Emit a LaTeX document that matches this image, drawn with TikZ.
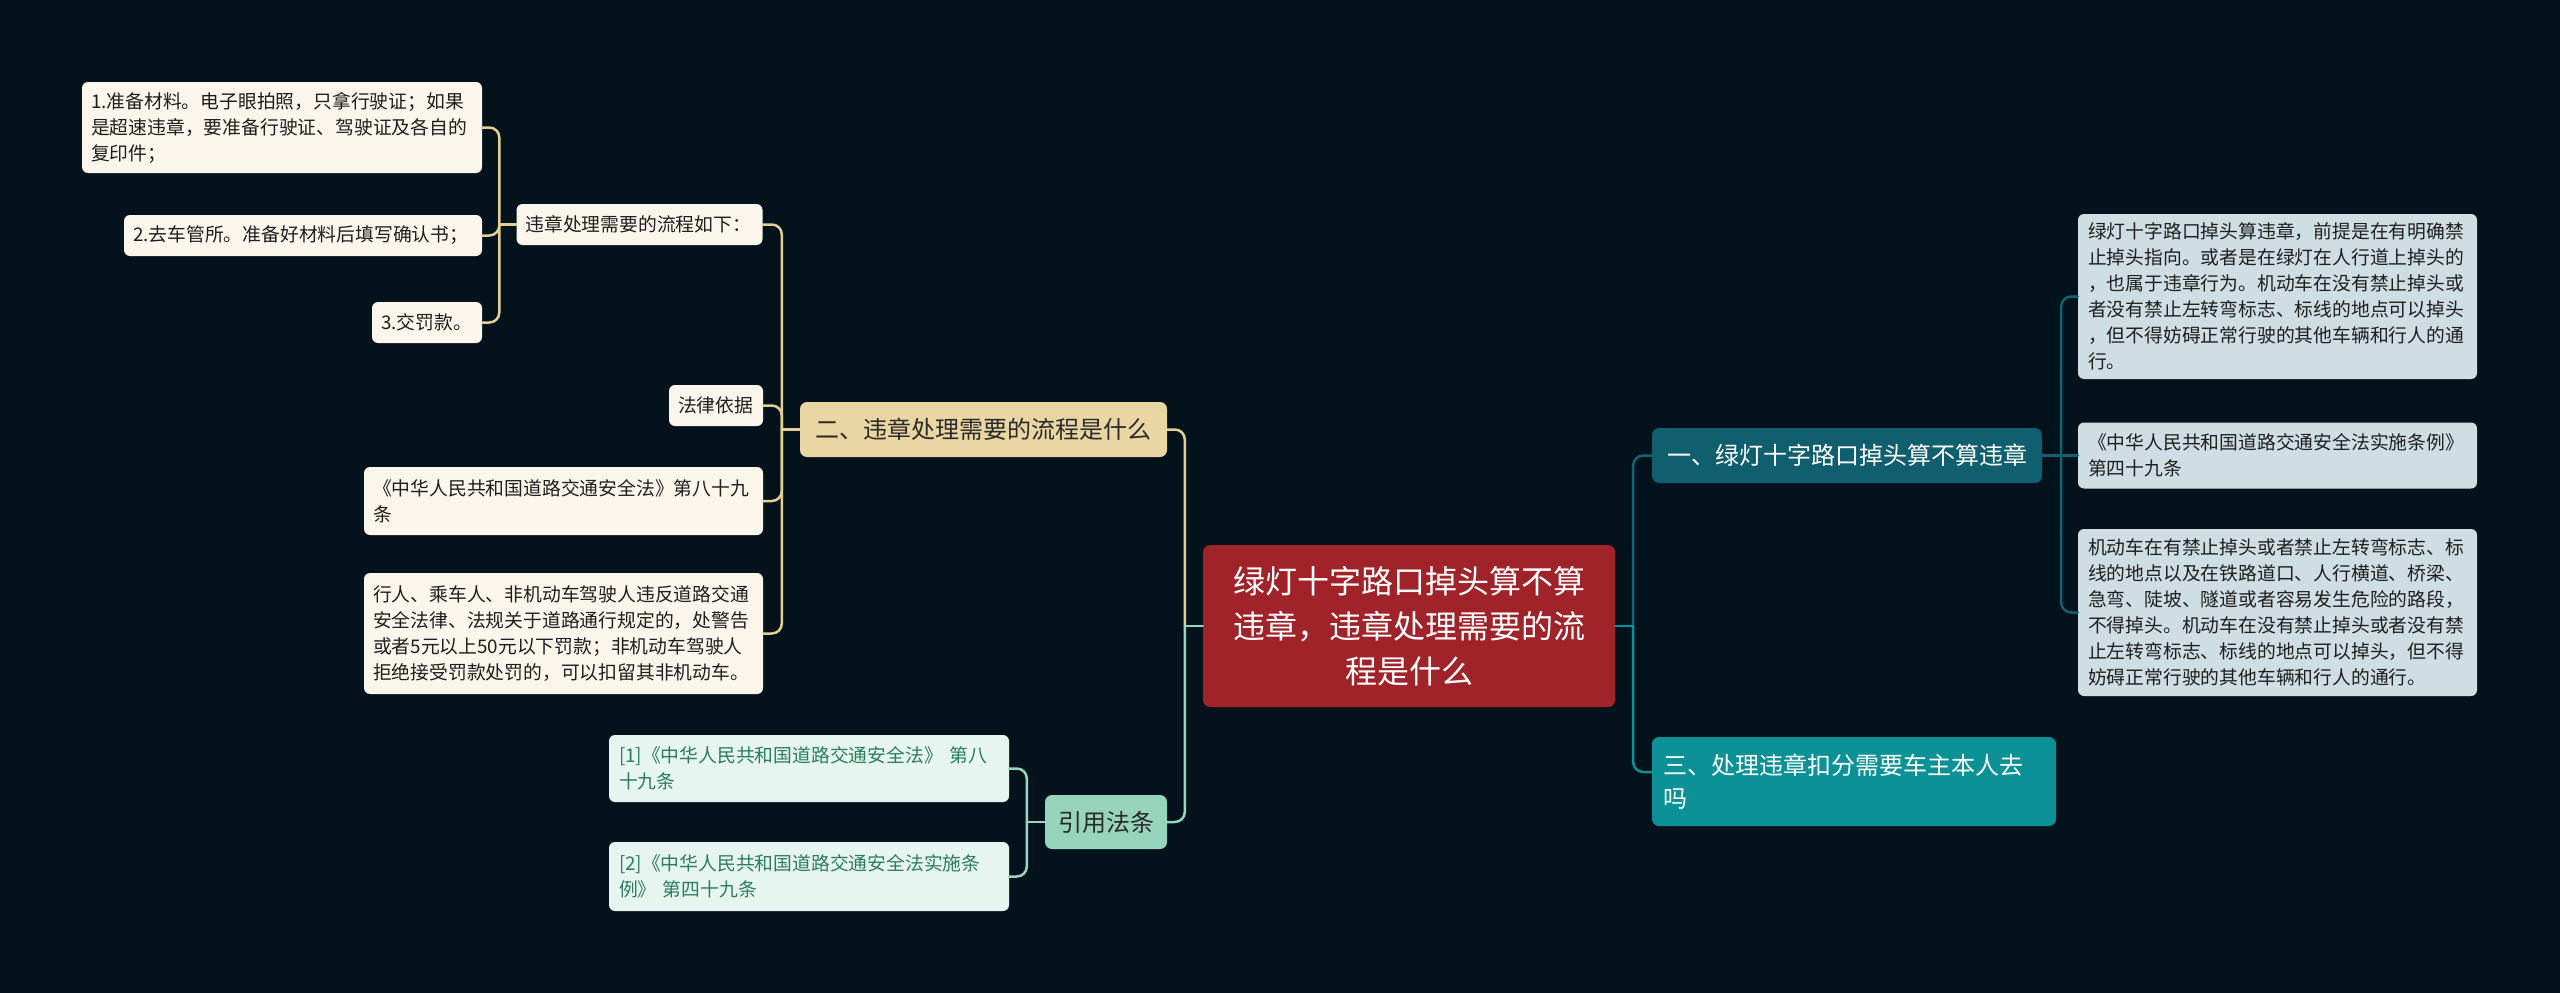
\documentclass[tikz,border=0pt]{standalone}
\usepackage{fontspec}
\setmainfont{Noto Sans CJK SC}
\usetikzlibrary{calc}
\definecolor{bg}{HTML}{04121B}
\definecolor{rootred}{HTML}{A0232A}
\definecolor{tealdark}{HTML}{0F5F6F}
\definecolor{tealmid}{HTML}{0B9196}
\definecolor{rleaf}{HTML}{CFDEE3}
\definecolor{tanfill}{HTML}{E9D6A2}
\definecolor{cream}{HTML}{FBF6EC}
\definecolor{mintfill}{HTML}{96D4BE}
\definecolor{mintleaf}{HTML}{E7F5F0}
\definecolor{greentext}{HTML}{2B7D5C}
\definecolor{tanline}{HTML}{E4D093}
\definecolor{mintline}{HTML}{97D5BF}
\definecolor{tealline}{HTML}{106273}
\definecolor{leaftext}{HTML}{1E1E1E}
\definecolor{darktext}{HTML}{2A2A2A}
\tikzset{
  mm/.style={rounded corners=7pt, inner ysep=0pt, draw=none},
  rootst/.style={mm, fill=rootred, text=white, font=\fontsize{32}{45}\selectfont, align=center, inner xsep=10pt},
  yist/.style={mm, fill=tealdark, text=white, font=\fontsize{24}{30}\selectfont, align=center, inner xsep=10pt},
  sanst/.style={mm, fill=tealmid, text=white, font=\fontsize{24}{33}\selectfont, align=left, inner xsep=11pt},
  erst/.style={mm, fill=tanfill, text=darktext, font=\fontsize{24}{30}\selectfont, align=center, inner xsep=10pt},
  yinst/.style={mm, fill=mintfill, text=darktext, font=\fontsize{24}{30}\selectfont, align=center, inner xsep=10pt},
  rleafst/.style={mm, rounded corners=6pt, fill=rleaf, text=leaftext, font=\fontsize{18.8}{26}\selectfont, align=left, inner xsep=10pt},
  lleafst/.style={mm, rounded corners=6pt, fill=cream, text=leaftext, font=\fontsize{18.8}{26}\selectfont, align=left, inner xsep=9pt},
  cleafst/.style={mm, rounded corners=6pt, fill=mintleaf, text=greentext, font=\fontsize{18.8}{26}\selectfont, align=left, inner xsep=10pt},
  conn/.style={line width=2.5pt, line cap=round, rounded corners=10pt},
  stub/.style={line width=2.5pt, line cap=round},
}
\newcommand\mmbox[8]{\node[#6, minimum width=#4, minimum height=#5, text width=#7] (#1) at (#2,#3) {#8};}
\begin{document}
\begin{tikzpicture}[x=1pt,y=-1pt]
\fill[bg] (0,0) rectangle (2560,993);
\useasboundingbox (0,0) rectangle (2560,993);

% root
\mmbox{root}{1409}{626}{412}{162}{rootst}{392pt}{绿灯十字路口掉头算不算\\违章，违章处理需要的流\\程是什么}

% right side
\mmbox{yi}{1847}{455.5}{390}{55}{yist}{370pt}{一、绿灯十字路口掉头算不算违章}
\mmbox{san}{1854}{781.5}{404}{89}{sanst}{382pt}{三、处理违章扣分需要车主本人去\\吗}
\mmbox{r1}{2277.5}{296.5}{399}{165}{rleafst}{379pt}{绿灯十字路口掉头算违章，前提是在有明确禁\\止掉头指向。或者是在绿灯在人行道上掉头的\\，也属于违章行为。机动车在没有禁止掉头或\\者没有禁止左转弯标志、标线的地点可以掉头\\，但不得妨碍正常行驶的其他车辆和行人的通\\行。}
\mmbox{r2}{2277.5}{455.5}{399}{66}{rleafst}{379pt}{《中华人民共和国道路交通安全法实施条例》\\第四十九条}
\mmbox{r3}{2277.5}{612.5}{399}{167}{rleafst}{379pt}{机动车在有禁止掉头或者禁止左转弯标志、标\\线的地点以及在铁路道口、人行横道、桥梁、\\急弯、陡坡、隧道或者容易发生危险的路段，\\不得掉头。机动车在没有禁止掉头或者没有禁\\止左转弯标志、标线的地点可以掉头，但不得\\妨碍正常行驶的其他车辆和行人的通行。}

% left side
\mmbox{er}{983.5}{429.5}{367}{55}{erst}{347pt}{二、违章处理需要的流程是什么}
\mmbox{yin}{1106}{822}{122}{54}{yinst}{102pt}{引用法条}
\mmbox{lc}{639.5}{224.5}{246}{41}{lleafst}{228pt}{违章处理需要的流程如下：}
\mmbox{lf}{716}{405.5}{94}{41}{lleafst}{76pt}{法律依据}
\mmbox{lg}{563.5}{501}{399}{68}{lleafst}{381pt}{《中华人民共和国道路交通安全法》第八十九\\条}
\mmbox{lx}{563.5}{633.5}{399}{121}{lleafst}{381pt}{行人、乘车人、非机动车驾驶人违反道路交通\\安全法律、法规关于道路通行规定的，处警告\\或者5元以上50元以下罚款；非机动车驾驶人\\拒绝接受罚款处罚的，可以扣留其非机动车。}
\mmbox{sa}{282}{127.5}{400}{91}{lleafst}{382pt}{1.准备材料。电子眼拍照，只拿行驶证；如果\\是超速违章，要准备行驶证、驾驶证及各自的\\复印件；}
\mmbox{sb}{303}{235.5}{358}{41}{lleafst}{340pt}{2.去车管所。准备好材料后填写确认书；}
\mmbox{sc}{427}{322.5}{110}{41}{lleafst}{92pt}{3.交罚款。}
\mmbox{ca}{809}{768.5}{400}{67}{cleafst}{380pt}{[1]《中华人民共和国道路交通安全法》~第八\\十九条}
\mmbox{cb}{809}{876.5}{400}{69}{cleafst}{380pt}{[2]《中华人民共和国道路交通安全法实施条\\例》~第四十九条}

% junction coordinates
\coordinate (jl) at ($(root.west)+(-18,0)$);
\coordinate (jr) at ($(root.east)+(18,0)$);
\coordinate (j1) at ($(yi.east)+(19,0)$);
\coordinate (j2) at ($(er.west)+(-18,0)$);
\coordinate (j3) at ($(yin.west)+(-18,0)$);
\coordinate (j4) at ($(lc.west)+(-17,0)$);

% root connectors
\draw[conn,tanline] (jl) |- (er.east);
\draw[conn,mintline] (jl) |- (yin.east);
\draw[stub,mintline] (root.west) -- (jl);
\draw[conn,tealline] (jr) |- (yi.west);
\draw[conn,tealmid] (jr) |- ([yshift=9.5pt]san.west);
\draw[stub,tealmid] (root.east) -- (jr);

% right leaves
\draw[conn,tealline] (j1) |- (r1.west);
\draw[conn,tealline] (j1) |- (r3.west);
\draw[stub,tealline] (yi.east) -- (r2.west);

% er children
\draw[stub,tanline] (er.west) -- (j2);
\draw[conn,tanline] (j2) |- (lc.east);
\draw[conn,tanline] (j2) |- (lf.east);
\draw[conn,tanline] (j2) |- (lg.east);
\draw[conn,tanline] (j2) |- (lx.east);

% lc children
\draw[stub,tanline] (lc.west) -- (j4);
\draw[conn,tanline] (j4) |- (sa.east);
\draw[conn,tanline] (j4) |- (sb.east);
\draw[conn,tanline] (j4) |- (sc.east);

% yin children
\draw[stub,mintline] (yin.west) -- (j3);
\draw[conn,mintline] (j3) |- (ca.east);
\draw[conn,mintline] (j3) |- (cb.east);
\end{tikzpicture}
\end{document}
